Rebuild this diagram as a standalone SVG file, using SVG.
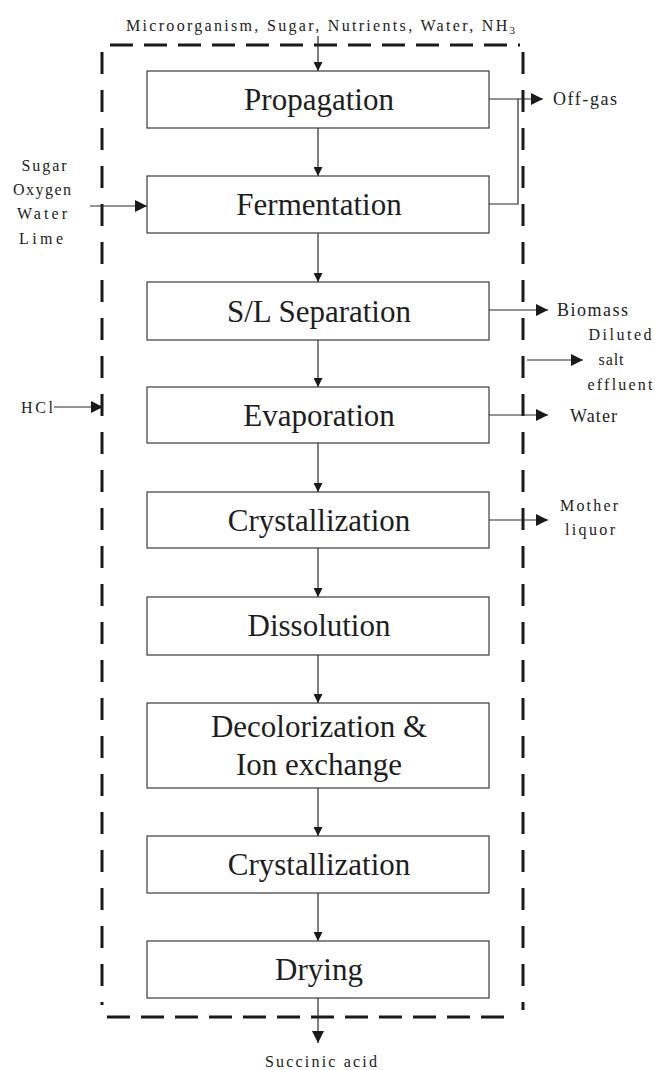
<svg xmlns="http://www.w3.org/2000/svg" width="655" height="1070" viewBox="0 0 655 1070">
  <defs>
    <style>
      .box { fill: #ffffff; stroke: #3a3a3a; stroke-width: 1.2; }
      .lbl { font-family: "Liberation Serif", "Times New Roman", serif; font-size: 31px; fill: #1e1e1e; text-anchor: middle; }
      .sm { font-family: "Liberation Serif", "Times New Roman", serif; font-size: 16px; fill: #222; }
      .side { font-family: "Liberation Serif", "Times New Roman", serif; font-size: 18px; fill: #222; }
      .flow { fill: none; stroke: #2a2a2a; stroke-width: 1.2; }
      .bound { fill: none; stroke: #1a1a1a; stroke-width: 3; }
    </style>
    <marker id="ahv" viewBox="0 0 10 10" refX="10" refY="5" markerWidth="12" markerHeight="9" markerUnits="userSpaceOnUse" orient="auto">
      <path d="M0,0 L10,5 L0,10 z" fill="#1a1a1a"/>
    </marker>
    <marker id="ahs" viewBox="0 0 10 10" refX="10" refY="5" markerWidth="13" markerHeight="12" markerUnits="userSpaceOnUse" orient="auto">
      <path d="M0,0 L10,5 L0,10 z" fill="#1a1a1a"/>
    </marker>
  </defs>

  <!-- system boundary -->
  <g id="boundary">
    <path class="bound" d="M110,45 H520" stroke-dasharray="23 11"/>
    <path class="bound" d="M107,1017 H514" stroke-dasharray="23 11"/>
    <path class="bound" d="M102,52 V1005" stroke-dasharray="22 16"/>
    <path class="bound" d="M523,52 V1010" stroke-dasharray="22 16"/>
  </g>

  <!-- connectors -->
  <g id="connectors">
    <path class="flow" d="M318,36 V71" marker-end="url(#ahv)"/>
    <path class="flow" d="M318,128 V176" marker-end="url(#ahv)"/>
    <path class="flow" d="M318,233 V282" marker-end="url(#ahv)"/>
    <path class="flow" d="M318,340 V387" marker-end="url(#ahv)"/>
    <path class="flow" d="M318,443 V492" marker-end="url(#ahv)"/>
    <path class="flow" d="M318,548 V597" marker-end="url(#ahv)"/>
    <path class="flow" d="M318,655 V703" marker-end="url(#ahv)"/>
    <path class="flow" d="M318,788 V836" marker-end="url(#ahv)"/>
    <path class="flow" d="M318,893 V941" marker-end="url(#ahv)"/>
    <path class="flow" d="M318,998 V1043" marker-end="url(#ahs)"/>
    <!-- feeds -->
    <path class="flow" d="M90,206 H147" marker-end="url(#ahs)"/>
    <path class="flow" d="M54,407 H103" marker-end="url(#ahs)"/>
    <!-- outlets -->
    <path class="flow" d="M489,99 H543" marker-end="url(#ahs)"/>
    <path class="flow" d="M489,204 H518 V99"/>
    <path class="flow" d="M489,310 H548" marker-end="url(#ahs)"/>
    <path class="flow" d="M527,360 H583" marker-end="url(#ahs)"/>
    <path class="flow" d="M489,415 H548" marker-end="url(#ahs)"/>
    <path class="flow" d="M489,520 H548" marker-end="url(#ahs)"/>
  </g>

  <!-- process steps -->
  <g id="propagation">
    <rect class="box" x="147" y="71" width="342" height="57"/>
    <text class="lbl" x="319" y="110">Propagation</text>
  </g>
  <g id="fermentation">
    <rect class="box" x="147" y="176" width="342" height="57"/>
    <text class="lbl" x="319" y="215">Fermentation</text>
  </g>
  <g id="sl-separation">
    <rect class="box" x="147" y="282" width="342" height="58"/>
    <text class="lbl" x="319" y="322">S/L Separation</text>
  </g>
  <g id="evaporation">
    <rect class="box" x="147" y="387" width="342" height="56"/>
    <text class="lbl" x="319" y="426">Evaporation</text>
  </g>
  <g id="crystallization-1">
    <rect class="box" x="147" y="492" width="342" height="56"/>
    <text class="lbl" x="319" y="531">Crystallization</text>
  </g>
  <g id="dissolution">
    <rect class="box" x="147" y="597" width="342" height="58"/>
    <text class="lbl" x="319" y="636">Dissolution</text>
  </g>
  <g id="decolorization">
    <rect class="box" x="147" y="703" width="342" height="85"/>
    <text class="lbl" x="319" y="737">Decolorization &amp;</text>
    <text class="lbl" x="319" y="775">Ion exchange</text>
  </g>
  <g id="crystallization-2">
    <rect class="box" x="147" y="836" width="342" height="57"/>
    <text class="lbl" x="319" y="875">Crystallization</text>
  </g>
  <g id="drying">
    <rect class="box" x="147" y="941" width="342" height="57"/>
    <text class="lbl" x="319" y="980">Drying</text>
  </g>

  <!-- stream labels -->
  <g id="feed-top">
    <text class="sm" x="126" y="31" textLength="389">Microorganism, Sugar, Nutrients, Water, NH<tspan font-size="11" dy="3">3</tspan></text>
  </g>
  <g id="feed-side" class="sm" text-anchor="middle">
    <text x="44" y="171" textLength="45">Sugar</text>
    <text x="42" y="195" textLength="58">Oxygen</text>
    <text x="42" y="219" textLength="50">Water</text>
    <text x="41" y="244" textLength="44">Lime</text>
  </g>
  <g id="feed-hcl">
    <text class="sm" x="21" y="413" textLength="32">HCl</text>
  </g>
  <g id="out-offgas">
    <text class="side" x="553" y="105" textLength="64">Off-gas</text>
  </g>
  <g id="out-biomass">
    <text class="side" x="557" y="316" textLength="71">Biomass</text>
  </g>
  <g id="out-salt" class="sm" text-anchor="middle">
    <text x="620" y="340" textLength="63">Diluted</text>
    <text x="611" y="365" textLength="25">salt</text>
    <text x="620" y="390" textLength="65">effluent</text>
  </g>
  <g id="out-water">
    <text class="side" x="570" y="422" textLength="47">Water</text>
  </g>
  <g id="out-mother-liquor" class="sm" text-anchor="middle">
    <text x="589" y="511" textLength="58">Mother</text>
    <text x="590" y="535" textLength="50">liquor</text>
  </g>
  <g id="product">
    <text class="sm" x="321" y="1067" text-anchor="middle" textLength="112">Succinic acid</text>
  </g>
</svg>
